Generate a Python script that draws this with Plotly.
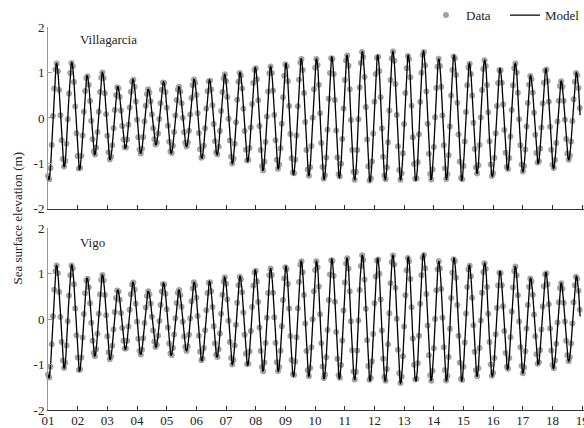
import numpy as np
import plotly.graph_objects as go

# ---------------- data ----------------
day_ticks = list(range(1, 20))
day_labels = ["%02d" % d for d in day_ticks]
y_ticks = [-2, -1, 0, 1, 2]
y_labels = ["-2", "-1", "0", "1", "2"]

# timing of the tidal extremes (days): first low water and half tidal period
t_first_low = 1.03
half_period = 0.2576

# Villagarcia: low-water and high-water levels (m), in order of occurrence
vil_low = [-1.36, -1.07, -1.14, -0.81, -0.92, -0.67, -0.78, -0.59, -0.78, -0.63, -0.89, -0.81,
           -1.00, -0.96, -1.16, -1.12, -1.25, -1.27, -1.35, -1.31, -1.36, -1.40, -1.36, -1.36,
           -1.38, -1.36, -1.35, -1.38, -1.22, -1.29, -1.14, -1.18, -1.00, -1.11, -0.92, -0.95]
vil_high = [1.20, 1.22, 0.93, 1.00, 0.69, 0.85, 0.63, 0.80, 0.69, 0.85, 0.84,
            0.96, 1.00, 1.11, 1.13, 1.20, 1.31, 1.30, 1.35, 1.38, 1.46, 1.38, 1.46,
            1.38, 1.47, 1.30, 1.38, 1.20, 1.27, 1.09, 1.20, 0.93, 1.09, 0.81, 1.00]

# Vigo
vigo_low = [-1.30, -1.08, -1.15, -0.82, -0.89, -0.67, -0.78, -0.62, -0.80, -0.70, -0.92, -0.84,
            -1.00, -1.02, -1.15, -1.15, -1.26, -1.26, -1.31, -1.31, -1.33, -1.36, -1.37, -1.41,
            -1.37, -1.36, -1.36, -1.37, -1.26, -1.26, -1.11, -1.19, -1.00, -1.09, -0.93, -0.90]
vigo_high = [1.18, 1.19, 0.90, 0.97, 0.64, 0.81, 0.61, 0.79, 0.64, 0.81, 0.83,
             0.92, 0.94, 1.08, 1.11, 1.16, 1.28, 1.27, 1.33, 1.34, 1.41, 1.34, 1.40,
             1.36, 1.43, 1.27, 1.34, 1.18, 1.23, 1.05, 1.16, 0.90, 1.03, 0.79, 0.94]

obs_start, obs_end = 1.0, 18.93      # observation record (days), hourly
model_end = 18.93


def extremes(lows, highs):
    seq = []
    for i in range(len(highs)):
        seq += [lows[i], highs[i]]
    seq.append(lows[len(highs)])
    times = t_first_low + half_period * np.arange(len(seq))
    return times, np.array(seq)


def tide(t, times, levels):
    idx = np.clip(np.searchsorted(times, t, side="right") - 1, 0, len(times) - 2)
    a, b = levels[idx], levels[idx + 1]
    ph = (t - times[idx]) / (times[idx + 1] - times[idx])
    return (a + b) / 2 + (a - b) / 2 * np.cos(np.pi * ph)


t_obs = np.arange(obs_start, obs_end + 1e-9, 1 / 24)
t_mod = np.arange(obs_start, model_end + 1e-9, 0.01)

FONT = "Liberation Serif"
DOT = "#a3a3a3"

fig = go.Figure()
stations = [("Villagarcia", vil_low, vil_high, "x", "y"),
            ("Vigo", vigo_low, vigo_high, "x2", "y2")]
for k, (name, lo, hi, xa, ya) in enumerate(stations):
    times, lev = extremes(lo, hi)
    fig.add_trace(go.Scatter(
        x=t_obs, y=tide(t_obs, times, lev), mode="markers", name="Data",
        marker=dict(color=DOT, size=6), xaxis=xa, yaxis=ya,
        showlegend=(k == 0), cliponaxis=False))
    fig.add_trace(go.Scatter(
        x=t_mod, y=tide(t_mod, times, lev), mode="lines", name="Model",
        line=dict(color="black", width=1.3), xaxis=xa, yaxis=ya,
        showlegend=(k == 0)))

xcommon = dict(range=[1, 19.06], tickvals=day_ticks, ticktext=day_labels,
               ticks="inside", ticklen=4, tickcolor="#333", showline=True,
               linecolor="#333", linewidth=1, showgrid=False, zeroline=False,
               tickfont=dict(family=FONT, size=13, color="#222"),
               ticklabeloverflow="allow", automargin=False, ticklabelstandoff=-2)
ycommon = dict(range=[-2, 2], tickvals=y_ticks, ticktext=y_labels,
               ticks="inside", ticklen=4, tickcolor="#999", showline=True,
               linecolor="#999", linewidth=1, showgrid=False, zeroline=False,
               tickfont=dict(family=FONT, size=13, color="#222"), automargin=False)

fig.update_layout(
    width=584, height=428,
    margin=dict(l=48, r=0, t=27, b=18, autoexpand=False),
    paper_bgcolor="white", plot_bgcolor="white",
    font=dict(family=FONT, size=13, color="#222"),
    xaxis=dict(xcommon, anchor="y", showticklabels=False),
    yaxis=dict(ycommon, domain=[0.525, 1.0], anchor="x"),
    xaxis2=dict(xcommon, anchor="y2"),
    yaxis2=dict(ycommon, domain=[0.0, 0.475], anchor="x2"),
    legend=dict(orientation="h", x=1.0, xanchor="right", y=1.031, yanchor="middle",
                font=dict(family=FONT, size=13, color="#222"),
                bgcolor="rgba(0,0,0,0)", itemwidth=30,
                entrywidth=34, entrywidthmode="pixels"),
    showlegend=True,
    annotations=[
        dict(text="Villagarcia", xref="x domain", yref="y domain", x=0.056, y=0.929,
             xanchor="left", yanchor="middle", showarrow=False,
             font=dict(family=FONT, size=13, color="#222")),
        dict(text="Vigo", xref="x2 domain", yref="y2 domain", x=0.056, y=0.923,
             xanchor="left", yanchor="middle", showarrow=False,
             font=dict(family=FONT, size=13, color="#222")),
        dict(text="Sea surface elevation (m)", xref="paper", yref="paper",
             x=-0.056, y=0.5, xanchor="center", yanchor="middle", textangle=-90,
             showarrow=False, font=dict(family=FONT, size=13, color="#222")),
    ],
)

fig.write_html("out.html")
